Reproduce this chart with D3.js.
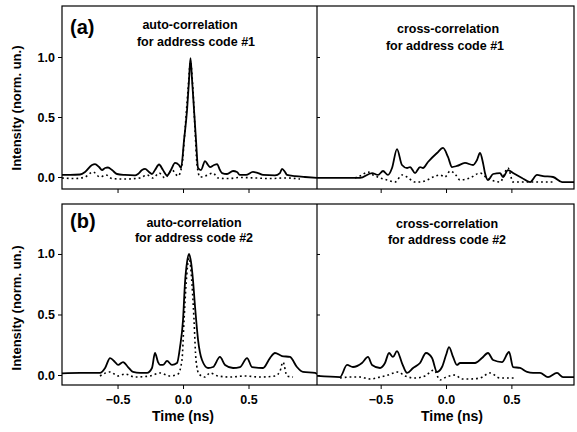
<!DOCTYPE html>
<html>
<head>
<meta charset="utf-8">
<style>
	body { margin: 0; background: #fff; }
	text { font-family: "Liberation Sans", Arial, sans-serif; font-weight: bold; fill: #000; }
	.frame { fill: none; stroke: #000; stroke-width: 1.2; }
	.solid { fill: none; stroke: #000; stroke-width: 1.8; stroke-linejoin: round; }
	.dotted { fill: none; stroke: #000; stroke-width: 1.6; stroke-dasharray: 1.8,3; }
	.axis path { display: none; }
	.axis line { stroke: #000; stroke-width: 1; }
	.axis text { font-size: 12.5px; }
</style>
</head>
<body>
<svg width="577" height="432"></svg>
<script src="https://d3js.org/d3.v7.min.js"></script>
<script>

// tick values
var xTicks = [-0.5, 0.0, 0.5];
var yTicks = [0.0, 0.5, 1.0];

// (a) auto-correlation, address code #1  [time (ns), intensity]
var autoA_solid = [[-0.924,0.017],[-0.863,0.017],[-0.786,0.021],[-0.748,0.042],[-0.695,0.10],[-0.672,0.108],
	[-0.641,0.083],[-0.618,0.058],[-0.595,0.075],[-0.573,0.079],[-0.542,0.058],[-0.504,0.025],[-0.443,0.017],
	[-0.366,0.013],[-0.344,0.025],[-0.313,0.058],[-0.290,0.067],[-0.260,0.042],[-0.237,0.025],[-0.214,0.058],
	[-0.183,0.104],[-0.153,0.058],[-0.122,0.013],[-0.092,0.058],[-0.061,0.117],[-0.031,0.10],[-0.015,0.075],
	[0.008,0.31],[0.031,0.56],[0.046,0.81],[0.057,0.99],[0.069,0.81],[0.084,0.56],[0.099,0.31],[0.115,0.075],
	[0.137,0.058],[0.168,0.133],[0.191,0.10],[0.206,0.083],[0.237,0.10],[0.260,0.108],[0.282,0.058],[0.298,0.033],
	[0.336,0.025],[0.382,0.05],[0.412,0.042],[0.435,0.017],[0.481,0.017],[0.534,0.042],[0.573,0.033],[0.611,0.017],
	[0.702,0.013],[0.740,0.033],[0.756,0.067],[0.779,0.042],[0.794,0.017],[0.855,0.008],[0.931,0],[1.023,-0.008]];
var autoA_dotted = [[-0.924,-0.008],[-0.824,-0.013],[-0.748,0],[-0.687,0.042],[-0.634,0],[-0.588,0.017],
	[-0.542,-0.013],[-0.443,-0.017],[-0.328,-0.008],[-0.275,0.017],[-0.229,-0.008],[-0.183,0.033],[-0.137,-0.008],
	[-0.084,0.058],[-0.038,0.008],[-0.008,0.10],[0.015,0.39],[0.038,0.725],[0.057,0.96],[0.076,0.725],[0.092,0.39],
	[0.107,0.10],[0.130,0],[0.168,0.008],[0.229,0.033],[0.267,-0.008],[0.344,-0.013],[0.435,-0.004],[0.550,-0.008],
	[0.664,-0.013],[0.779,-0.008],[0.893,-0.017]];

// (a) cross-correlation, address code #1
var crossA_solid = [[-0.987,-0.008],[-0.811,-0.008],[-0.658,-0.008],[-0.566,0.033],[-0.520,0.017],[-0.482,0.05],
	[-0.444,0.017],[-0.413,0.075],[-0.375,0.233],[-0.337,0.10],[-0.298,0.075],[-0.275,0.083],[-0.237,0.033],
	[-0.199,0.083],[-0.176,0.075],[-0.138,0.125],[-0.069,0.20],[-0.023,0.242],[0.015,0.167],[0.046,0.083],
	[0.084,0.092],[0.145,0.117],[0.207,0.10],[0.237,0.142],[0.260,0.20],[0.283,0.117],[0.298,0.033],[0.321,-0.025],
	[0.360,0.025],[0.413,0.033],[0.436,0],[0.474,0.058],[0.513,0.033],[0.581,-0.008],[0.643,-0.042],[0.696,0.017],
	[0.742,0.008],[0.819,0],[0.888,-0.042],[0.979,-0.042]];
var crossA_dotted = [[-0.696,-0.008],[-0.658,0.008],[-0.597,0.042],[-0.559,0.017],[-0.505,-0.008],[-0.451,-0.025],
	[-0.390,-0.042],[-0.337,0.017],[-0.298,0],[-0.237,-0.042],[-0.199,-0.042],[-0.145,-0.025],[-0.099,0],
	[-0.046,0.017],[-0.008,0],[0.031,0.05],[0.069,0.025],[0.107,-0.025],[0.184,-0.008],[0.260,0.033],[0.314,-0.008],
	[0.413,-0.042],[0.474,0.075],[0.513,-0.042],[0.643,-0.042],[0.834,-0.042]];

// (b) auto-correlation, address code #2
var autoB_solid = [[-0.924,0.014],[-0.786,0.017],[-0.634,0.017],[-0.595,0.058],[-0.557,0.14],[-0.519,0.107],
	[-0.496,0.083],[-0.458,0.107],[-0.420,0.066],[-0.382,0.025],[-0.328,0.017],[-0.275,0.017],[-0.237,0.058],
	[-0.214,0.182],[-0.191,0.107],[-0.176,0.083],[-0.153,0.083],[-0.122,0.116],[-0.084,0.083],[-0.046,0.099],
	[-0.023,0.231],[0,0.455],[0.015,0.76],[0.031,0.934],[0.046,1.0],[0.061,0.934],[0.076,0.785],[0.092,0.562],
	[0.115,0.289],[0.145,0.124],[0.191,0.058],[0.229,0.066],[0.282,0.149],[0.321,0.083],[0.382,0.058],[0.435,0.066],
	[0.489,0.14],[0.527,0.066],[0.611,0.058],[0.664,0.14],[0.702,0.182],[0.756,0.157],[0.817,0.149],[0.870,0.066],
	[0.916,0.025],[1.008,0.017],[1.023,0.008]];
var autoB_dotted = [[-0.634,-0.008],[-0.557,0.025],[-0.496,-0.008],[-0.443,0.008],[-0.366,-0.017],[-0.252,-0.008],
	[-0.176,0.017],[-0.099,-0.008],[-0.038,0.008],[-0.008,0.124],[0.008,0.455],[0.023,0.744],[0.046,0.967],
	[0.069,0.744],[0.084,0.455],[0.099,0.124],[0.122,0.008],[0.168,-0.017],[0.206,0.017],[0.267,-0.008],
	[0.359,-0.017],[0.473,-0.008],[0.588,-0.017],[0.702,-0.008],[0.740,0.03],[0.763,0.107],[0.794,-0.008],[0.840,-0.017]];

// (b) cross-correlation, address code #2
var crossB_solid = [[-0.987,-0.008],[-0.811,-0.017],[-0.757,0.083],[-0.712,0.066],[-0.643,0.099],[-0.597,0.149],
	[-0.566,0.083],[-0.505,0.058],[-0.467,0.099],[-0.436,0.182],[-0.406,0.149],[-0.375,0.198],[-0.337,0.099],
	[-0.298,0.017],[-0.252,0.058],[-0.199,0.099],[-0.153,0.182],[-0.107,0.14],[-0.069,0.025],[-0.031,0.066],
	[0,0.165],[0.023,0.231],[0.054,0.149],[0.084,0.083],[0.107,0.099],[0.168,0.099],[0.222,0.099],[0.275,0.14],
	[0.321,0.182],[0.360,0.124],[0.428,0.107],[0.482,0.19],[0.513,0.066],[0.566,0.058],[0.620,0.025],[0.666,0.017],
	[0.719,0.017],[0.780,-0.017],[0.849,0.017],[0.895,-0.017],[0.979,-0.017]];
var crossB_dotted = [[-0.811,-0.025],[-0.735,-0.017],[-0.658,-0.017],[-0.581,-0.033],[-0.505,-0.017],[-0.444,0],
	[-0.367,0.025],[-0.314,-0.008],[-0.237,-0.025],[-0.161,-0.008],[-0.092,0.041],[-0.046,-0.041],[0,-0.017],
	[0.069,0],[0.122,-0.033],[0.184,-0.033],[0.260,-0.025],[0.337,0.017],[0.413,-0.025],[0.528,-0.025]];

var svg = d3.select("svg");

var xL = d3.scaleLinear().domain([-0.924, 1.023]).range([62, 317]);
var xR = d3.scaleLinear().domain([-0.987, 0.979]).range([317, 574]);
var yA = d3.scaleLinear().domain([-0.1, 1.425]).range([189, 6]);
var yB = d3.scaleLinear().domain([-0.0826, 1.413]).range([385, 204]);

var panels = [
	{ id: "aL", x: xL, y: yA, solid: autoA_solid, dotted: autoA_dotted, t1: "auto-correlation", t2: "for address code #1", c1: 190, c2: 196, b1: 29, b2: 46 },
	{ id: "aR", x: xR, y: yA, solid: crossA_solid, dotted: crossA_dotted, t1: "cross-correlation", t2: "for address code #1", c1: 448, c2: 445, b1: 33, b2: 50 },
	{ id: "bL", x: xL, y: yB, solid: autoB_solid, dotted: autoB_dotted, t1: "auto-correlation", t2: "for address code #2", c1: 194, c2: 194, b1: 227, b2: 242 },
	{ id: "bR", x: xR, y: yB, solid: crossB_solid, dotted: crossB_dotted, t1: "cross-correlation", t2: "for address code #2", c1: 447, c2: 447, b1: 228, b2: 244 }
];

var defs = svg.append("defs");

panels.forEach(function (p) {
	var r = p.x.range(), h = p.y.range();
	defs.append("clipPath").attr("id", "clip-" + p.id)
		.append("rect")
		.attr("x", r[0]).attr("y", h[1])
		.attr("width", r[1] - r[0]).attr("height", h[0] - h[1]);

	var line = d3.line()
		.x(function (d) { return p.x(d[0]); })
		.y(function (d) { return p.y(d[1]); })
		.curve(d3.curveMonotoneX);

	var g = svg.append("g").attr("clip-path", "url(#clip-" + p.id + ")");
	g.append("path").attr("class", "dotted").attr("d", line(p.dotted));
	g.append("path").attr("class", "solid").attr("d", line(p.solid));

	// x ticks on every panel, labels only on the bottom row
	var isBottom = p.id.charAt(0) === "b";
	svg.append("g")
		.attr("class", "axis")
		.attr("transform", "translate(0," + h[0] + ")")
		.call(d3.axisBottom(p.x).tickValues(xTicks).tickSize(4).tickPadding(6)
			.tickFormat(isBottom ? d3.format(".1f") : ""));

	svg.append("text").attr("x", p.c1).attr("y", p.b1)
		.attr("text-anchor", "middle").style("font-size", "12.5px").text(p.t1);
	svg.append("text").attr("x", p.c2).attr("y", p.b2)
		.attr("text-anchor", "middle").style("font-size", "12.5px").text(p.t2);
});

// frames, y axes and row labels
[{ y: yA, tag: "(a)", ty: 34, ly: 108 }, { y: yB, tag: "(b)", ty: 228, ly: 308 }].forEach(function (row) {
	var h = row.y.range();
	svg.append("rect").attr("class", "frame")
		.attr("x", 62).attr("y", h[1]).attr("width", 574 - 62).attr("height", h[0] - h[1]);
	svg.append("line").attr("class", "frame")
		.attr("x1", 317).attr("x2", 317).attr("y1", h[1]).attr("y2", h[0]);

	svg.append("g")
		.attr("class", "axis")
		.attr("transform", "translate(62,0)")
		.call(d3.axisLeft(row.y).tickValues(yTicks).tickSize(4).tickPadding(3).tickFormat(d3.format(".1f")));

	// small inner ticks on the divider
	svg.append("g")
		.attr("class", "axis")
		.attr("transform", "translate(317,0)")
		.call(d3.axisRight(row.y).tickValues(yTicks).tickSize(3).tickFormat(""));

	svg.append("text").attr("x", 70).attr("y", row.ty)
		.style("font-size", "20px").text(row.tag);

	svg.append("text")
		.attr("transform", "translate(21," + row.ly + ") rotate(-90)")
		.attr("text-anchor", "middle").style("font-size", "13px")
		.text("Intensity (norm. un.)");
});

// x axis titles
svg.append("text").attr("x", 183).attr("y", 421).attr("text-anchor", "middle")
	.style("font-size", "14px").text("Time (ns)");
svg.append("text").attr("x", 452).attr("y", 421).attr("text-anchor", "middle")
	.style("font-size", "14px").text("Time (ns)");

</script>
</body>
</html>
